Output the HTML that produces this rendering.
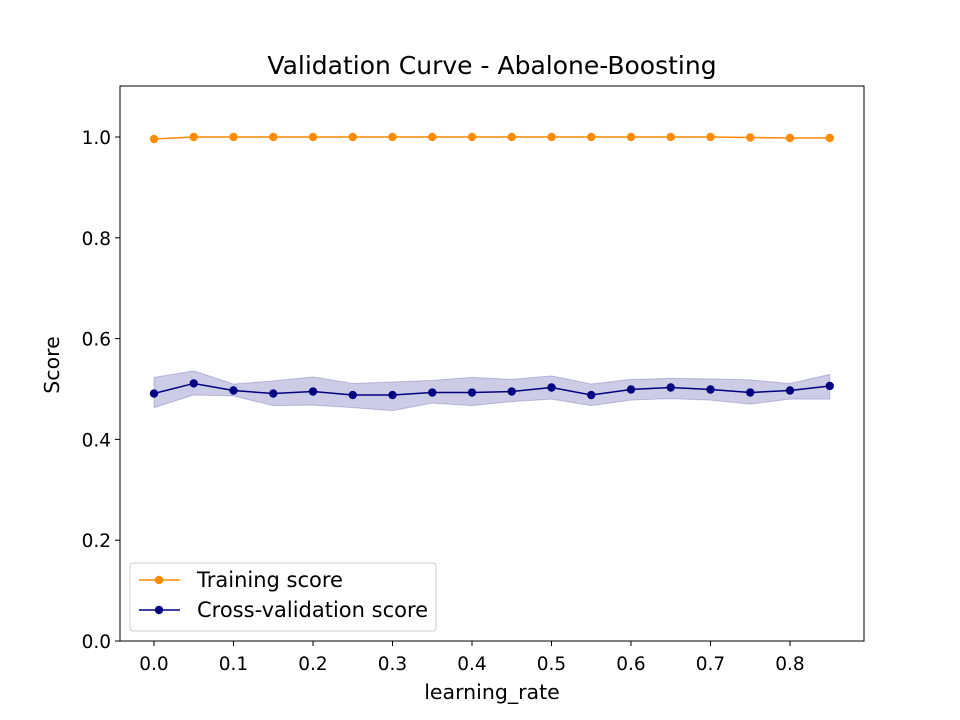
<!DOCTYPE html>
<html><head><meta charset="utf-8"><style>
html,body{margin:0;padding:0;background:#fff;}
svg{display:block;font-family:"DejaVu Sans","Liberation Sans",sans-serif;}
</style></head><body>
<svg id="chart" width="960" height="720"></svg>
<script>
const xs = [0,0.05,0.1,0.15,0.2,0.25,0.3,0.35,0.4,0.45,0.5,0.55,0.6,0.65,0.7,0.75,0.8,0.85];
const trainScores = [0.996,1,1,1,1,1,1,1,1,1,1,1,1,1,1,0.999,0.998,0.998];
const cvScores = [0.491,0.511,0.497,0.491,0.495,0.488,0.488,0.493,0.493,0.495,0.503,0.488,0.499,0.503,0.499,0.493,0.497,0.506];
const cvUpper = [0.523,0.536,0.510,0.516,0.524,0.511,0.514,0.517,0.523,0.519,0.526,0.510,0.519,0.521,0.520,0.518,0.511,0.529];
const cvLower = [0.463,0.488,0.486,0.467,0.468,0.463,0.457,0.472,0.467,0.475,0.480,0.467,0.478,0.481,0.478,0.470,0.480,0.480];
const xTicks = [0,0.1,0.2,0.3,0.4,0.5,0.6,0.7,0.8];
const xTickLabels = ["0.0","0.1","0.2","0.3","0.4","0.5","0.6","0.7","0.8"];
const yTicks = [0,0.2,0.4,0.6,0.8,1.0];
const yTickLabels = ["0.0","0.2","0.4","0.6","0.8","1.0"];

const L=120,R=864,T=86,B=641;
const X=v=>154+v*795;
const Y=v=>B-v*504;
const NS="http://www.w3.org/2000/svg";
const svg=document.getElementById('chart');
function mk(tag,attrs,parent){const e=document.createElementNS(NS,tag);for(const k in attrs)e.setAttribute(k,attrs[k]);(parent||svg).appendChild(e);return e;}

let pts=xs.map((x,i)=>X(x)+','+Y(cvUpper[i]));
pts=pts.concat(xs.map((x,i)=>X(x)+','+Y(cvLower[i])).reverse());
const band=mk('polygon',{points:pts.join(' '),fill:'#000080','fill-opacity':0.2,stroke:'#000080','stroke-opacity':0.2});



function series(vals,color,name){
  const g=mk('g',{});
  
  
  mk('polyline',{points:xs.map((x,i)=>X(x)+','+Y(vals[i])).join(' '),fill:'none',stroke:color,'stroke-width':1.5},g);
  xs.forEach((x,i)=>{const c=mk('circle',{cx:X(x),cy:Y(vals[i]),r:4.2,fill:color},g);
    
    });
}
series(trainScores,'#ff8c00','training-score-line');
series(cvScores,'#000080','cv-score-line');

const frame=mk('rect',{x:L,y:T,width:R-L,height:B-T,fill:'none',stroke:'#000','stroke-width':1});



xTicks.forEach((v,i)=>{
  mk('line',{x1:X(v),x2:X(v),y1:B,y2:B+5,stroke:'#000'});
  const t=mk('text',{x:X(v),y:B+29,'text-anchor':'middle','font-size':18.5});
  t.textContent=xTickLabels[i];
  
  
});
yTicks.forEach((v,i)=>{
  mk('line',{x1:L-5,x2:L,y1:Y(v),y2:Y(v),stroke:'#000'});
  const t=mk('text',{x:L-9,y:Y(v)+7,'text-anchor':'end','font-size':18.5});
  t.textContent=yTickLabels[i];
  
  
});
</script>
<svg style="position:absolute;left:0;top:0" width="960" height="720">
<text x="492" y="74" text-anchor="middle" font-size="25">Validation Curve - Abalone-Boosting</text>
<text x="492" y="699" text-anchor="middle" font-size="20.5">learning_rate</text>
<text x="59" y="365" text-anchor="middle" font-size="20.5" transform="rotate(-90 59 365)">Score</text>
<g>
<rect x="130" y="563" width="306" height="68" rx="3" fill="#fff" fill-opacity="0.8" stroke="#ccc"/>
<g>
<line x1="139" x2="180" y1="580" y2="580" stroke="#ff8c00" stroke-width="1.5"/><circle cx="159" cy="580" r="4.2" fill="#ff8c00"/>
<text x="197" y="587" font-size="21">Training score</text></g>
<g>
<line x1="139" x2="180" y1="610" y2="610" stroke="#000080" stroke-width="1.5"/><circle cx="159" cy="610" r="4.2" fill="#000080"/>
<text x="197" y="617" font-size="21">Cross-validation score</text></g>
</g>
</svg>
</body></html>
